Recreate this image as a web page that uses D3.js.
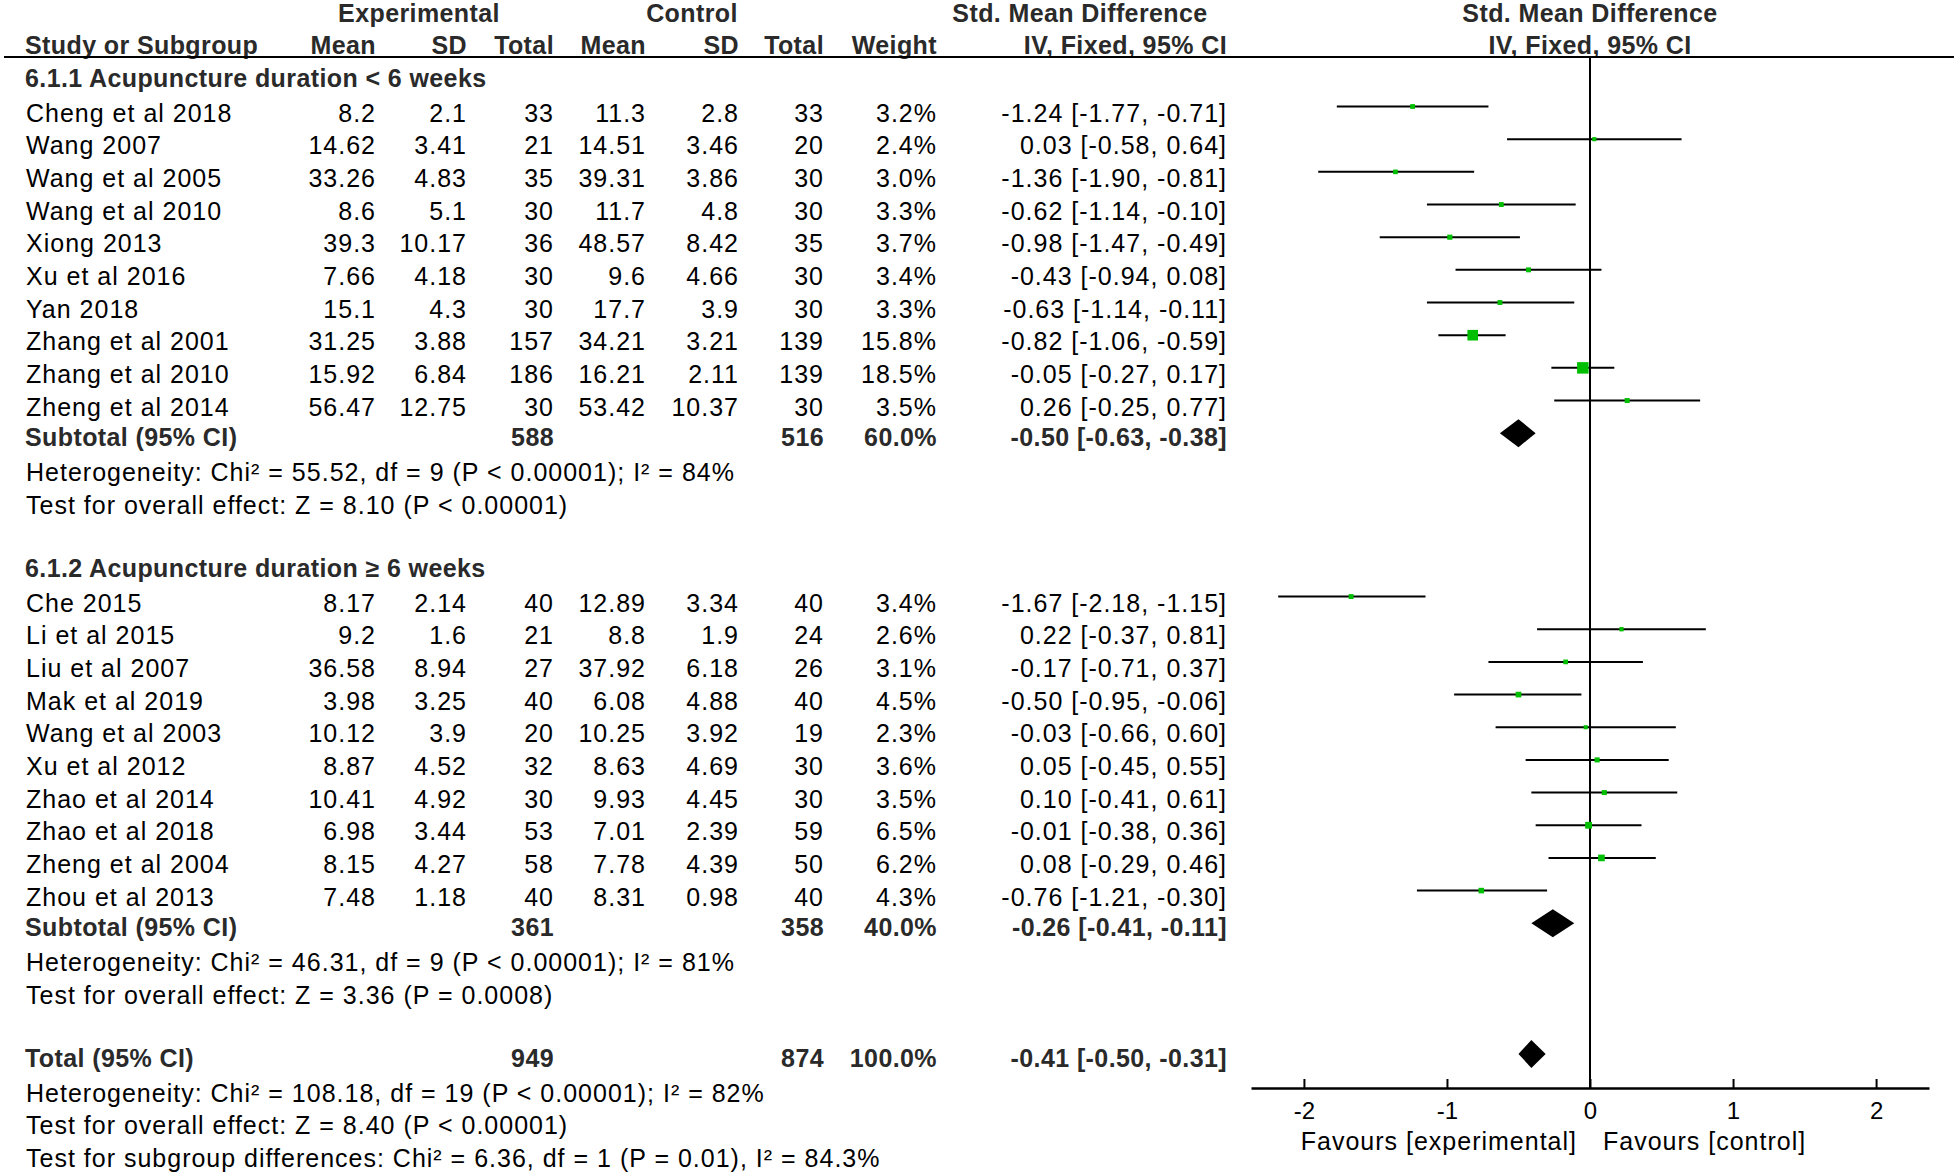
<!DOCTYPE html>
<html>
<head>
<meta charset="utf-8">
<script src="https://cdn.jsdelivr.net/npm/d3@7"></script>
<style>
  html, body { margin: 0; padding: 0; background: #fff; }
  svg { display: block; }
  text { font-family: "Liberation Sans", Arial, sans-serif; }
</style>
</head>
<body>
<svg id="chart" width="1954" height="1172"></svg>
<script>
// ---------------- DATA ----------------
const groupTitles = ["6.1.1 Acupuncture duration < 6 weeks", "6.1.2 Acupuncture duration \u2265 6 weeks"];
const studyNames = [
  "Cheng et al 2018", "Wang 2007", "Wang et al 2005", "Wang et al 2010", "Xiong 2013",
  "Xu et al 2016", "Yan 2018", "Zhang et al 2001", "Zhang et al 2010", "Zheng et al 2014",
  "Che 2015", "Li et al 2015", "Liu et al 2007", "Mak et al 2019", "Wang et al 2003",
  "Xu et al 2012", "Zhao et al 2014", "Zhao et al 2018", "Zheng et al 2004", "Zhou et al 2013"
];
const studyGroup = [0,0,0,0,0,0,0,0,0,0, 1,1,1,1,1,1,1,1,1,1];
const expMean  = [8.2, 14.62, 33.26, 8.6, 39.3, 7.66, 15.1, 31.25, 15.92, 56.47,
                  8.17, 9.2, 36.58, 3.98, 10.12, 8.87, 10.41, 6.98, 8.15, 7.48];
const expSD    = [2.1, 3.41, 4.83, 5.1, 10.17, 4.18, 4.3, 3.88, 6.84, 12.75,
                  2.14, 1.6, 8.94, 3.25, 3.9, 4.52, 4.92, 3.44, 4.27, 1.18];
const expTotal = [33, 21, 35, 30, 36, 30, 30, 157, 186, 30,
                  40, 21, 27, 40, 20, 32, 30, 53, 58, 40];
const ctlMean  = [11.3, 14.51, 39.31, 11.7, 48.57, 9.6, 17.7, 34.21, 16.21, 53.42,
                  12.89, 8.8, 37.92, 6.08, 10.25, 8.63, 9.93, 7.01, 7.78, 8.31];
const ctlSD    = [2.8, 3.46, 3.86, 4.8, 8.42, 4.66, 3.9, 3.21, 2.11, 10.37,
                  3.34, 1.9, 6.18, 4.88, 3.92, 4.69, 4.45, 2.39, 4.39, 0.98];
const ctlTotal = [33, 20, 30, 30, 35, 30, 30, 139, 139, 30,
                  40, 24, 26, 40, 19, 30, 30, 59, 50, 40];
const weight   = [3.2, 2.4, 3.0, 3.3, 3.7, 3.4, 3.3, 15.8, 18.5, 3.5,
                  3.4, 2.6, 3.1, 4.5, 2.3, 3.6, 3.5, 6.5, 6.2, 4.3];
const smd      = [-1.24, 0.03, -1.36, -0.62, -0.98, -0.43, -0.63, -0.82, -0.05, 0.26,
                  -1.67, 0.22, -0.17, -0.50, -0.03, 0.05, 0.10, -0.01, 0.08, -0.76];
const ciLow    = [-1.77, -0.58, -1.90, -1.14, -1.47, -0.94, -1.14, -1.06, -0.27, -0.25,
                  -2.18, -0.37, -0.71, -0.95, -0.66, -0.45, -0.41, -0.38, -0.29, -1.21];
const ciHigh   = [-0.71, 0.64, -0.81, -0.10, -0.49, 0.08, -0.11, -0.59, 0.17, 0.77,
                  -1.15, 0.81, 0.37, -0.06, 0.60, 0.55, 0.61, 0.36, 0.46, -0.30];

const pooledLabels = ["Subtotal (95% CI)", "Subtotal (95% CI)", "Total (95% CI)"];
const pooledExpN   = [588, 361, 949];
const pooledCtlN   = [516, 358, 874];
const pooledWeight = [60.0, 40.0, 100.0];
const pooledSmd    = [-0.50, -0.26, -0.41];
const pooledLow    = [-0.63, -0.41, -0.50];
const pooledHigh   = [-0.38, -0.11, -0.31];

const hetTexts = [
  "Heterogeneity: Chi\u00B2 = 55.52, df = 9 (P < 0.00001); I\u00B2 = 84%",
  "Heterogeneity: Chi\u00B2 = 46.31, df = 9 (P < 0.00001); I\u00B2 = 81%",
  "Heterogeneity: Chi\u00B2 = 108.18, df = 19 (P < 0.00001); I\u00B2 = 82%"
];
const effectTexts = [
  "Test for overall effect: Z = 8.10 (P < 0.00001)",
  "Test for overall effect: Z = 3.36 (P = 0.0008)",
  "Test for overall effect: Z = 8.40 (P < 0.00001)"
];
const subgroupText = "Test for subgroup differences: Chi\u00B2 = 6.36, df = 1 (P = 0.01), I\u00B2 = 84.3%";

const xTicks = [-2, -1, 0, 1, 2];
const favourLabels = ["Favours [experimental]", "Favours [control]"];

// ---------------- LAYOUT ----------------
const svg = d3.select("#chart");
svg.append("rect").attr("width", 1954).attr("height", 1172).attr("fill", "#fff");

const FS = 25;
const yRow = d3.scaleLinear().domain([0, 35]).range([14.5, 14.5 + 32.67 * 35]);
const base = k => yRow(k) + 9;        // text baseline
const markY = k => yRow(k) - 6;       // plot marker centre

const x = d3.scaleLinear().domain([-2.37, 2.37]).range([1251, 1929]);
const axisY = 1088;
const headerLineY = 57;

const col = { study: 26, expMean: 376, expSD: 467, expN: 554, ctlMean: 646, ctlSD: 739, ctlN: 824, weight: 937, ci: 1227 };

function txt(s, xx, k, opts = {}) {
  const t = svg.append("text")
    .attr("x", xx)
    .attr("y", base(k) - (opts.bold ? 2 : 0))
    .attr("font-size", opts.size || FS)
    .attr("font-weight", opts.bold ? "bold" : "normal")
    .attr("fill", opts.bold ? "#2a2a2a" : "#000")
    .attr("letter-spacing", opts.bold ? "0.4px" : "1px")
    .attr("text-anchor", opts.anchor || "start")
    .text(s);
  return t;
}
const f2 = v => v.toFixed(2);
const ciStr = (e, l, h) => `${f2(e)} [${f2(l)}, ${f2(h)}]`;

// Header
txt("Experimental", 419, 0, { bold: true, anchor: "middle" });
txt("Control", 692, 0, { bold: true, anchor: "middle" });
txt("Std. Mean Difference", 1080, 0, { bold: true, anchor: "middle" });
txt("Std. Mean Difference", x(0), 0, { bold: true, anchor: "middle" });
txt("Study or Subgroup", col.study - 1, 1, { bold: true });
txt("Mean", col.expMean, 1, { bold: true, anchor: "end" });
txt("SD", col.expSD, 1, { bold: true, anchor: "end" });
txt("Total", col.expN, 1, { bold: true, anchor: "end" });
txt("Mean", col.ctlMean, 1, { bold: true, anchor: "end" });
txt("SD", col.ctlSD, 1, { bold: true, anchor: "end" });
txt("Total", col.ctlN, 1, { bold: true, anchor: "end" });
txt("Weight", col.weight, 1, { bold: true, anchor: "end" });
txt("IV, Fixed, 95% CI", col.ci, 1, { bold: true, anchor: "end" });
txt("IV, Fixed, 95% CI", x(0), 1, { bold: true, anchor: "middle" });

svg.append("line").attr("x1", 4).attr("x2", 1954).attr("y1", headerLineY).attr("y2", headerLineY)
  .attr("stroke", "#000").attr("stroke-width", 2);

// Zero line
svg.append("line").attr("x1", x(0)).attr("x2", x(0)).attr("y1", headerLineY).attr("y2", axisY)
  .attr("stroke", "#000").attr("stroke-width", 2);

// Row indices
const groupStart = [2, 17];
const studyRow = studyNames.map((d, i) => {
  const g = studyGroup[i];
  const idx = studyGroup.slice(0, i).filter(v => v === g).length;
  return groupStart[g] + 1 + idx;
});
const pooledRow = [13, 28, 32];

groupTitles.forEach((t, g) => txt(t, col.study - 1, groupStart[g], { bold: true }));

const fmt = v => String(v);
studyNames.forEach((name, i) => {
  const k = studyRow[i];
  txt(name, col.study, k);
  txt(fmt(expMean[i]), col.expMean, k, { anchor: "end" });
  txt(fmt(expSD[i]), col.expSD, k, { anchor: "end" });
  txt(fmt(expTotal[i]), col.expN, k, { anchor: "end" });
  txt(fmt(ctlMean[i]), col.ctlMean, k, { anchor: "end" });
  txt(fmt(ctlSD[i]), col.ctlSD, k, { anchor: "end" });
  txt(fmt(ctlTotal[i]), col.ctlN, k, { anchor: "end" });
  txt(weight[i].toFixed(1) + "%", col.weight, k, { anchor: "end" });
  txt(ciStr(smd[i], ciLow[i], ciHigh[i]), col.ci, k, { anchor: "end" });
});

// Study markers
const plot = svg.append("g");
plot.selectAll("line.ci").data(studyNames).join("line")
  .attr("class", "ci")
  .attr("x1", (d, i) => x(ciLow[i])).attr("x2", (d, i) => x(ciHigh[i]))
  .attr("y1", (d, i) => markY(studyRow[i])).attr("y2", (d, i) => markY(studyRow[i]))
  .attr("stroke", "#000").attr("stroke-width", 2);
const side = w => 2.67 * Math.sqrt(w);
plot.selectAll("rect.sq").data(studyNames).join("rect")
  .attr("class", "sq")
  .attr("x", (d, i) => x(smd[i]) - side(weight[i]) / 2)
  .attr("y", (d, i) => markY(studyRow[i]) - side(weight[i]) / 2)
  .attr("width", (d, i) => side(weight[i]))
  .attr("height", (d, i) => side(weight[i]))
  .attr("fill", "#00bf00");

// Pooled rows
pooledLabels.forEach((lab, p) => {
  const k = pooledRow[p];
  txt(lab, col.study - 1, k, { bold: true });
  txt(String(pooledExpN[p]), col.expN, k, { bold: true, anchor: "end" });
  txt(String(pooledCtlN[p]), col.ctlN, k, { bold: true, anchor: "end" });
  txt(pooledWeight[p].toFixed(1) + "%", col.weight, k, { bold: true, anchor: "end" });
  txt(ciStr(pooledSmd[p], pooledLow[p], pooledHigh[p]), col.ci, k, { bold: true, anchor: "end" });
  txt(hetTexts[p], col.study, k + 1);
  txt(effectTexts[p], col.study, k + 2);
  const cy = markY(k), h = 14;
  plot.append("polygon")
    .attr("points", [[x(pooledLow[p]), cy], [x(pooledSmd[p]), cy - h], [x(pooledHigh[p]), cy], [x(pooledSmd[p]), cy + h]].map(q => q.join(",")).join(" "))
    .attr("fill", "#000");
});
txt(subgroupText, col.study, 35);

// Axis
const axis = d3.axisBottom(x).tickValues(xTicks).tickSizeInner(-9).tickSizeOuter(0).tickPadding(14)
  .tickFormat(d => String(d));
const ag = svg.append("g").attr("transform", `translate(0,${axisY})`).call(axis);
ag.select(".domain").attr("stroke", "#000").attr("stroke-width", 2.5);
ag.selectAll(".tick line").attr("stroke", "#000").attr("stroke-width", 2);
ag.selectAll(".tick text").attr("font-size", 24).attr("fill", "#000")
  .attr("font-family", "'Liberation Sans', Arial, sans-serif");

svg.append("text").attr("x", x(0) - 13).attr("y", 1150).attr("font-size", FS).attr("letter-spacing", "1px")
  .attr("text-anchor", "end").attr("fill", "#000").text(favourLabels[0]);
svg.append("text").attr("x", x(0) + 13).attr("y", 1150).attr("font-size", FS).attr("letter-spacing", "1px")
  .attr("text-anchor", "start").attr("fill", "#000").text(favourLabels[1]);
</script>
</body>
</html>
